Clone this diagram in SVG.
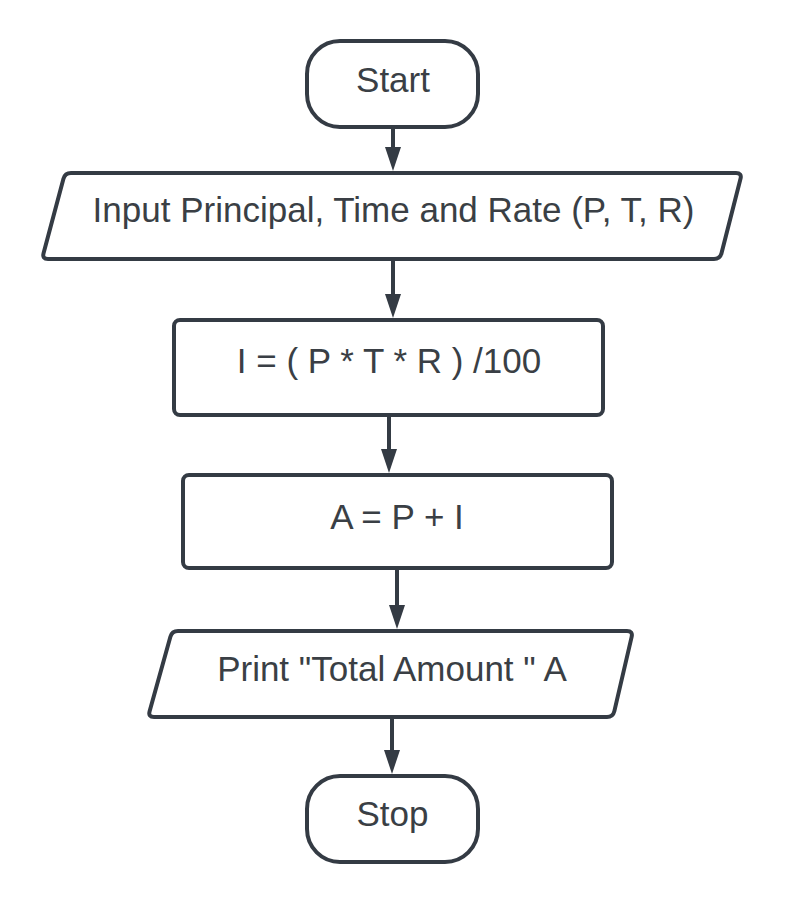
<svg xmlns="http://www.w3.org/2000/svg" width="785" height="904" viewBox="0 0 785 904">
  <style>
    .shape { fill: #ffffff; stroke: #343b44; stroke-width: 4; stroke-linejoin: round; }
    .conn { stroke: #343b44; stroke-width: 4; fill: none; }
    .label { font-family: "Liberation Sans", Arial, sans-serif; font-size: 35px; fill: #3a3f45; text-anchor: middle; }
  </style>
  <defs>
    <marker id="arrow" markerUnits="userSpaceOnUse" markerWidth="24" markerHeight="16" refX="0" refY="8" orient="auto">
      <path d="M0,0 L24,8 L0,16 Z" fill="#343b44"/>
    </marker>
  </defs>
  <rect x="0" y="0" width="785" height="904" fill="#ffffff"/>

  <g id="connectors">
    <line class="conn" x1="393" y1="127" x2="393" y2="147" marker-end="url(#arrow)"/>
    <line class="conn" x1="393" y1="261" x2="393" y2="294" marker-end="url(#arrow)"/>
    <line class="conn" x1="389" y1="417" x2="389" y2="449" marker-end="url(#arrow)"/>
    <line class="conn" x1="397" y1="570" x2="397" y2="605" marker-end="url(#arrow)"/>
    <line class="conn" x1="392" y1="719" x2="392" y2="750" marker-end="url(#arrow)"/>
  </g>

  <g id="start">
    <rect class="shape" x="307" y="41" width="171" height="86" rx="33" ry="33"/>
    <text class="label" x="393" y="92">Start</text>
  </g>

  <g id="input">
    <path class="shape" d="M 71,173 L 736,173 Q 742,173 740.5,178.8 L 721.5,253.2 Q 720,259 714,259 L 48,259 Q 42,259 43.55,253.2 L 63.45,178.8 Q 65,173 71,173 Z"/>
    <text class="label" x="393.5" y="222">Input Principal, Time and Rate (P, T, R)</text>
  </g>

  <g id="interest">
    <rect class="shape" x="174" y="320" width="429" height="95" rx="6" ry="6"/>
    <text class="label" x="389" y="373">I = ( P * T * R ) /100</text>
  </g>

  <g id="amount">
    <rect class="shape" x="183" y="475" width="429" height="93" rx="6" ry="6"/>
    <text class="label" x="397" y="529">A = P + I</text>
  </g>

  <g id="print">
    <path class="shape" d="M 178,631 L 627,631 Q 633,631 631.64,636.84 L 614.36,711.16 Q 613,717 607,717 L 154,717 Q 148,717 149.61,711.22 L 170.39,636.78 Q 172,631 178,631 Z"/>
    <text class="label" x="392" y="681">Print "Total Amount " A</text>
  </g>

  <g id="stop">
    <rect class="shape" x="307" y="776" width="171" height="86" rx="33" ry="33"/>
    <text class="label" x="392.5" y="826">Stop</text>
  </g>
</svg>
